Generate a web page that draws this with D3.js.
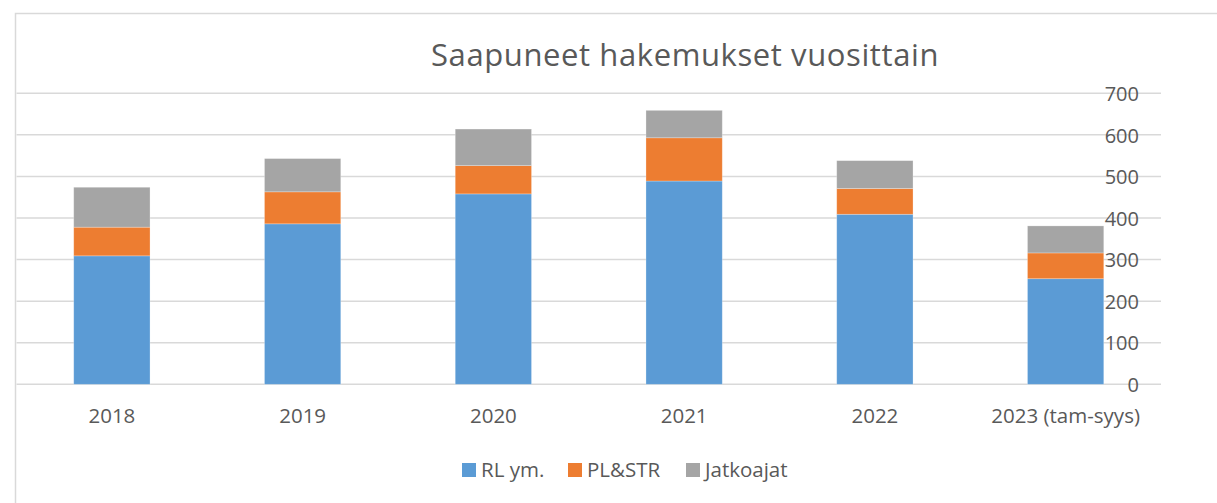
<!DOCTYPE html>
<html>
<head>
<meta charset="utf-8">
<script src="https://cdn.jsdelivr.net/npm/d3@7"></script>
<style>
  body { margin: 0; background: #fff; }
  text { font-family: 'Open Sans', sans-serif; fill: #595959; }
</style>
</head>
<body>
<div id="chart"></div>
<script>
// data
const years = ['2018', '2019', '2020', '2021', '2022', '2023 (tam-syys)'];
const rl = [309, 386, 458, 489, 409, 254];
const pl = [69, 77, 68, 104, 62, 62];
const jatko = [96, 80, 88, 66, 67, 65];
const seriesNames = ['RL ym.', 'PL&STR', 'Jatkoajat'];
const colors = ['#5B9BD5', '#ED7D31', '#A5A5A5'];
const yTicks = [0, 100, 200, 300, 400, 500, 600, 700];

const width = 1217;
const height = 503;
const plotLeft = 16.5;
const plotRight = 1161;
const plotTop = 93.3;
const plotBottom = 384.3;

const rows = years.map((y, i) => ({ year: y, rl: rl[i], pl: pl[i], jatko: jatko[i] }));
const stack = d3.stack().keys(['rl', 'pl', 'jatko'])(rows);

const svg = d3.select('#chart')
  .append('svg')
  .attr('width', width)
  .attr('height', height);

// chart frame (only top + left edges visible)
svg.append('path')
  .attr('d', `M15.5,${height} V13.5 H${width}`)
  .attr('fill', 'none')
  .attr('stroke', '#D9D9D9')
  .attr('stroke-width', 1.5);

const x = d3.scaleBand()
  .domain(years)
  .range([plotLeft, plotRight])
  .paddingInner(0.6)
  .paddingOuter(0.3);

const y = d3.scaleLinear()
  .domain([0, 700])
  .range([plotBottom, plotTop]);

// gridlines
svg.append('g')
  .selectAll('line')
  .data(yTicks)
  .enter()
  .append('line')
  .attr('x1', plotLeft)
  .attr('x2', plotRight)
  .attr('y1', d => y(d))
  .attr('y2', d => y(d))
  .attr('stroke', '#D9D9D9')
  .attr('stroke-width', 1.5);

// bars
svg.append('g')
  .selectAll('g')
  .data(stack)
  .enter()
  .append('g')
  .attr('fill', (d, i) => colors[i])
  .selectAll('rect')
  .data(d => d)
  .enter()
  .append('rect')
  .attr('x', d => x(d.data.year))
  .attr('width', x.bandwidth())
  .attr('y', d => y(d[1]))
  .attr('height', d => y(d[0]) - y(d[1]))
  .attr('stroke', '#fff')
  .attr('stroke-opacity', 0.35)
  .attr('stroke-width', 0.75);

// y axis on the right, labels drawn over the gridlines
const yAxis = d3.axisRight(y).tickValues(yTicks).tickSize(0).tickPadding(0);
svg.append('g')
  .attr('transform', 'translate(1139,0)')
  .call(yAxis)
  .call(g => g.select('.domain').remove())
  .call(g => g.selectAll('text')
    .attr('text-anchor', 'end')
    .attr('x', 0)
    .attr('dy', '0.36em')
    .style('font-size', '20px')
    .style('font-family', "'Open Sans', sans-serif")
    .attr('fill', '#595959'));

// x axis labels
const xAxis = d3.axisBottom(x).tickSize(0).tickPadding(0);
svg.append('g')
  .attr('transform', `translate(0,${plotBottom})`)
  .call(xAxis)
  .call(g => g.select('.domain').remove())
  .call(g => g.selectAll('text')
    .attr('y', 39)
    .attr('dy', 0)
    .style('font-size', '20.5px')
    .style('font-family', "'Open Sans', sans-serif")
    .attr('fill', '#595959'));

// title
svg.append('text')
  .attr('x', 685)
  .attr('y', 66)
  .attr('text-anchor', 'middle')
  .style('font-size', '31px')
  .style('letter-spacing', '0.6px')
  .text('Saapuneet hakemukset vuosittain');

// legend
const legendX = [462, 568, 686];
const legend = svg.append('g')
  .selectAll('g')
  .data(seriesNames)
  .enter()
  .append('g')
  .attr('transform', (d, i) => `translate(${legendX[i]},463)`);

legend.append('rect')
  .attr('width', 14)
  .attr('height', 14)
  .attr('fill', (d, i) => colors[i]);

legend.append('text')
  .attr('x', 19)
  .attr('y', 14)
  .style('font-size', '20.5px')
  .text(d => d);
</script>
</body>
</html>
